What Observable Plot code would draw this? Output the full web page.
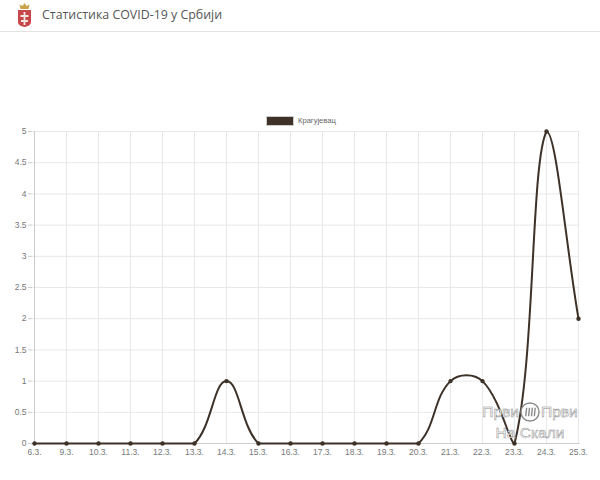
<!DOCTYPE html>
<html><head><meta charset="utf-8">
<script src="https://cdn.jsdelivr.net/npm/d3@7"></script>
<script src="https://cdn.jsdelivr.net/npm/@observablehq/plot@0.6"></script>
<style>
html,body{margin:0;padding:0;background:#fff;overflow:hidden}
#page{position:relative;width:600px;height:480px}
#hdr{height:31px;border-bottom:1px solid #e2e2e2;position:relative;box-sizing:content-box}
#hdr .t{position:absolute;left:42px;top:6px;font:12.4px "Open Sans",sans-serif;color:#555;white-space:nowrap}
#hdr svg{position:absolute;left:17px;top:2px}
#legend{position:absolute;left:266px;top:115.500px;display:flex;align-items:center;font:7.6px "Liberation Sans",sans-serif;color:#666}
#legend i{display:block;width:28px;height:10px;background:#3d3128;margin-right:4px;border:0.5px solid #ccc;box-sizing:border-box}
#chart{position:absolute;left:0;top:100px}
#wm{position:absolute;left:470px;top:401px;width:120px;text-align:center;font:15.5px "Liberation Sans",sans-serif;color:#fff;-webkit-text-stroke:0.5px #8c8c8c;line-height:21px;white-space:nowrap}
#wm svg{vertical-align:-5px;margin:0 1px}
</style></head><body>
<div id="page">
<div id="hdr"><svg width="15" height="26" viewBox="0 0 15 26"><path d="M3.5 7L2.5 2.5L5.5 4L7.5 1L9.5 4L12.5 2.5L11.500 7z" fill="#c9a24a"/><path d="M1 8h13v12q0 4-6.500 5q-6.500-1-6.500-5z" fill="#c6464a"/><path d="M7.500 10v13M3.500 14h8M4 19h7" stroke="#f3e6e0" stroke-width="1.800"/></svg><span class="t">Статистика COVID-19 у Србији</span></div>
<div id="legend"><i></i><span>Крагујевац</span></div>
<div id="chart"></div>
<div id="wm">Први<svg width="20" height="20" viewBox="0 0 21 21"><circle cx="10.500" cy="10.500" r="9.500" fill="#fff" fill-opacity="0.5" stroke="#8c8c8c" stroke-width="1.500"/><path d="M7 6l-1 9M10 6l-1 9M13 6l-1 9M16 6l-1 9" stroke="#8c8c8c" stroke-width="1.500"/></svg>Први<br>На Скали</div>
</div>
<script>
const labels=["6.3.","9.3.","10.3.","11.3.","12.3.","13.3.","14.3.","15.3.","16.3.","17.3.","18.3.","19.3.","20.3.","21.3.","22.3.","23.3.","24.3.","25.3."];
const values=[0,0,0,0,0,0,1,0,0,0,0,0,0,1,1,0,5,2];
const yTicks=[0,0.5,1,1.5,2,2.5,3,3.5,4,4.5,5];
const data=labels.map((label,i)=>({label,value:values[i]}));
const lineColor="#3d3128";
// Spline as used by the original chart (tension 0.4, distance weighted)
function chartSpline(ctx){
  let pts;
  return {
    lineStart(){pts=[]},
    point(x,y){pts.push([x,y])},
    lineEnd(){
      const t=0.4,n=pts.length,top=31,bottom=343;
      const cp=pts.map((p,i)=>{
        const a=pts[Math.max(i-1,0)],b=pts[Math.min(i+1,n-1)];
        const d1=Math.hypot(p[0]-a[0],p[1]-a[1]),d2=Math.hypot(b[0]-p[0],b[1]-p[1]);
        const s=d1+d2||1,fa=t*d1/s,fb=t*d2/s;
        const c=v=>Math.max(top,Math.min(bottom,v));
        return {px:p[0]-fa*(b[0]-a[0]),py:c(p[1]-fa*(b[1]-a[1])),nx:p[0]+fb*(b[0]-a[0]),ny:c(p[1]+fb*(b[1]-a[1]))};
      });
      ctx.moveTo(pts[0][0],pts[0][1]);
      for(let i=1;i<n;i++)ctx.bezierCurveTo(cp[i-1].nx,cp[i-1].ny,cp[i].px,cp[i].py,pts[i][0],pts[i][1]);
    },
    areaStart(){},areaEnd(){}
  };
}
const plot=Plot.plot({
  width:600,height:380,
  marginLeft:32,marginRight:20.500,marginTop:31,marginBottom:37,
  style:{background:"transparent",fontFamily:"'Liberation Sans',sans-serif",fontSize:"8.500px",color:"#777"},
  x:{type:"point",domain:labels,padding:0,label:null},
  y:{domain:[0,5],label:null},
  marks:[
    Plot.ruleX(labels,{x:d=>d,stroke:"#e8e8e8",strokeWidth:1}),
    Plot.ruleY(yTicks,{y:d=>d,stroke:"#e8e8e8",strokeWidth:1}),
    Plot.ruleX([labels[0]],{x:d=>d,stroke:"#cccccc",strokeWidth:1}),
    Plot.ruleY([0],{stroke:"#cccccc",strokeWidth:1}),
    Plot.axisX({tickSize:0,tickPadding:5,fill:"#777",label:null}),
    Plot.axisY({ticks:yTicks,tickFormat:d=>String(d),tickSize:4,tickPadding:2,stroke:"#ccc",fill:"#777",label:null}),
    Plot.line(data,{x:"label",y:"value",stroke:lineColor,strokeWidth:2,curve:chartSpline}),
    Plot.dot(data,{x:"label",y:"value",fill:lineColor,r:2.200})
  ]
});
document.getElementById("chart").append(plot);
</script>
</body></html>
